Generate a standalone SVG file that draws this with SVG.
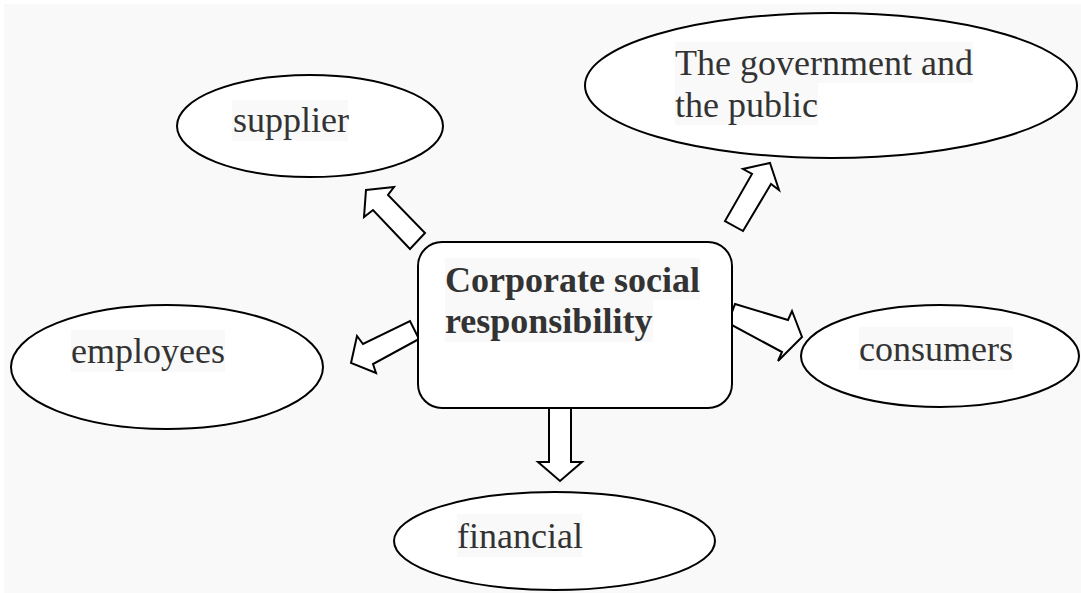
<svg xmlns="http://www.w3.org/2000/svg" width="1081" height="593" viewBox="0 0 1081 593">
<style>
.bg{fill:#f9f9f9}
.node{fill:#ffffff;stroke:#000;stroke-width:2}
.arrow{fill:#ffffff;stroke:#000;stroke-width:2;stroke-linejoin:miter}
.hl{fill:#f9f9f9}
.t{font-family:"Liberation Serif","Times New Roman",serif;font-size:36px;fill:#333333}
.b{font-weight:bold}
</style>
<rect x="0" y="0" width="1081" height="593" fill="#ffffff"/>
<rect class="bg" x="4" y="4" width="1077" height="589"/>
<g id="connectors">
<polygon class="arrow" points="366,190 394,187 388,195 425,233 410,249 373,210 364,217"/>
<polygon class="arrow" points="770,163 779,190 771,184 743,231 725,221 752,174 743,169"/>
<polygon class="arrow" points="351,363 357,336 363,344 410,321 419,339 373,364 376,373"/>
<polygon class="arrow" points="735,304 788,320 792,311 802,337 778,361 782,352 728,323"/>
<polygon class="arrow" points="549,408 571,408 571,462 582,462 560,481 538,462 549,462"/>
</g>
<g id="supplier">
<ellipse class="node" cx="310" cy="126" rx="133" ry="51"/>
<rect class="hl" x="232" y="100" width="116" height="41"/>
<text class="t" x="233" y="132">supplier</text>
</g>
<g id="government">
<ellipse class="node" cx="831" cy="85.5" rx="246" ry="72.5"/>
<rect class="hl" x="675" y="42" width="298" height="41"/>
<rect class="hl" x="675" y="83" width="143" height="42"/>
<text class="t" x="675" y="75">The government and</text>
<text class="t" x="675" y="117">the public</text>
</g>
<g id="employees">
<ellipse class="node" cx="167" cy="367" rx="156" ry="62"/>
<rect class="hl" x="71" y="330" width="154" height="42"/>
<text class="t" x="71" y="363">employees</text>
</g>
<g id="consumers">
<ellipse class="node" cx="940" cy="356" rx="139" ry="51"/>
<rect class="hl" x="859" y="327" width="154" height="43"/>
<text class="t" x="859" y="361">consumers</text>
</g>
<g id="financial">
<ellipse class="node" cx="554.5" cy="541" rx="160.5" ry="49"/>
<rect class="hl" x="457" y="514" width="125" height="43"/>
<text class="t" x="457" y="548">financial</text>
</g>
<g id="csr">
<rect class="node" x="418" y="242" width="314" height="166" rx="24" ry="24"/>
<rect class="hl" x="445" y="258" width="255" height="42"/>
<rect class="hl" x="445" y="300" width="208" height="42"/>
<text class="t b" x="445" y="292">Corporate social</text>
<text class="t b" x="445" y="333">responsibility</text>
</g>
</svg>
